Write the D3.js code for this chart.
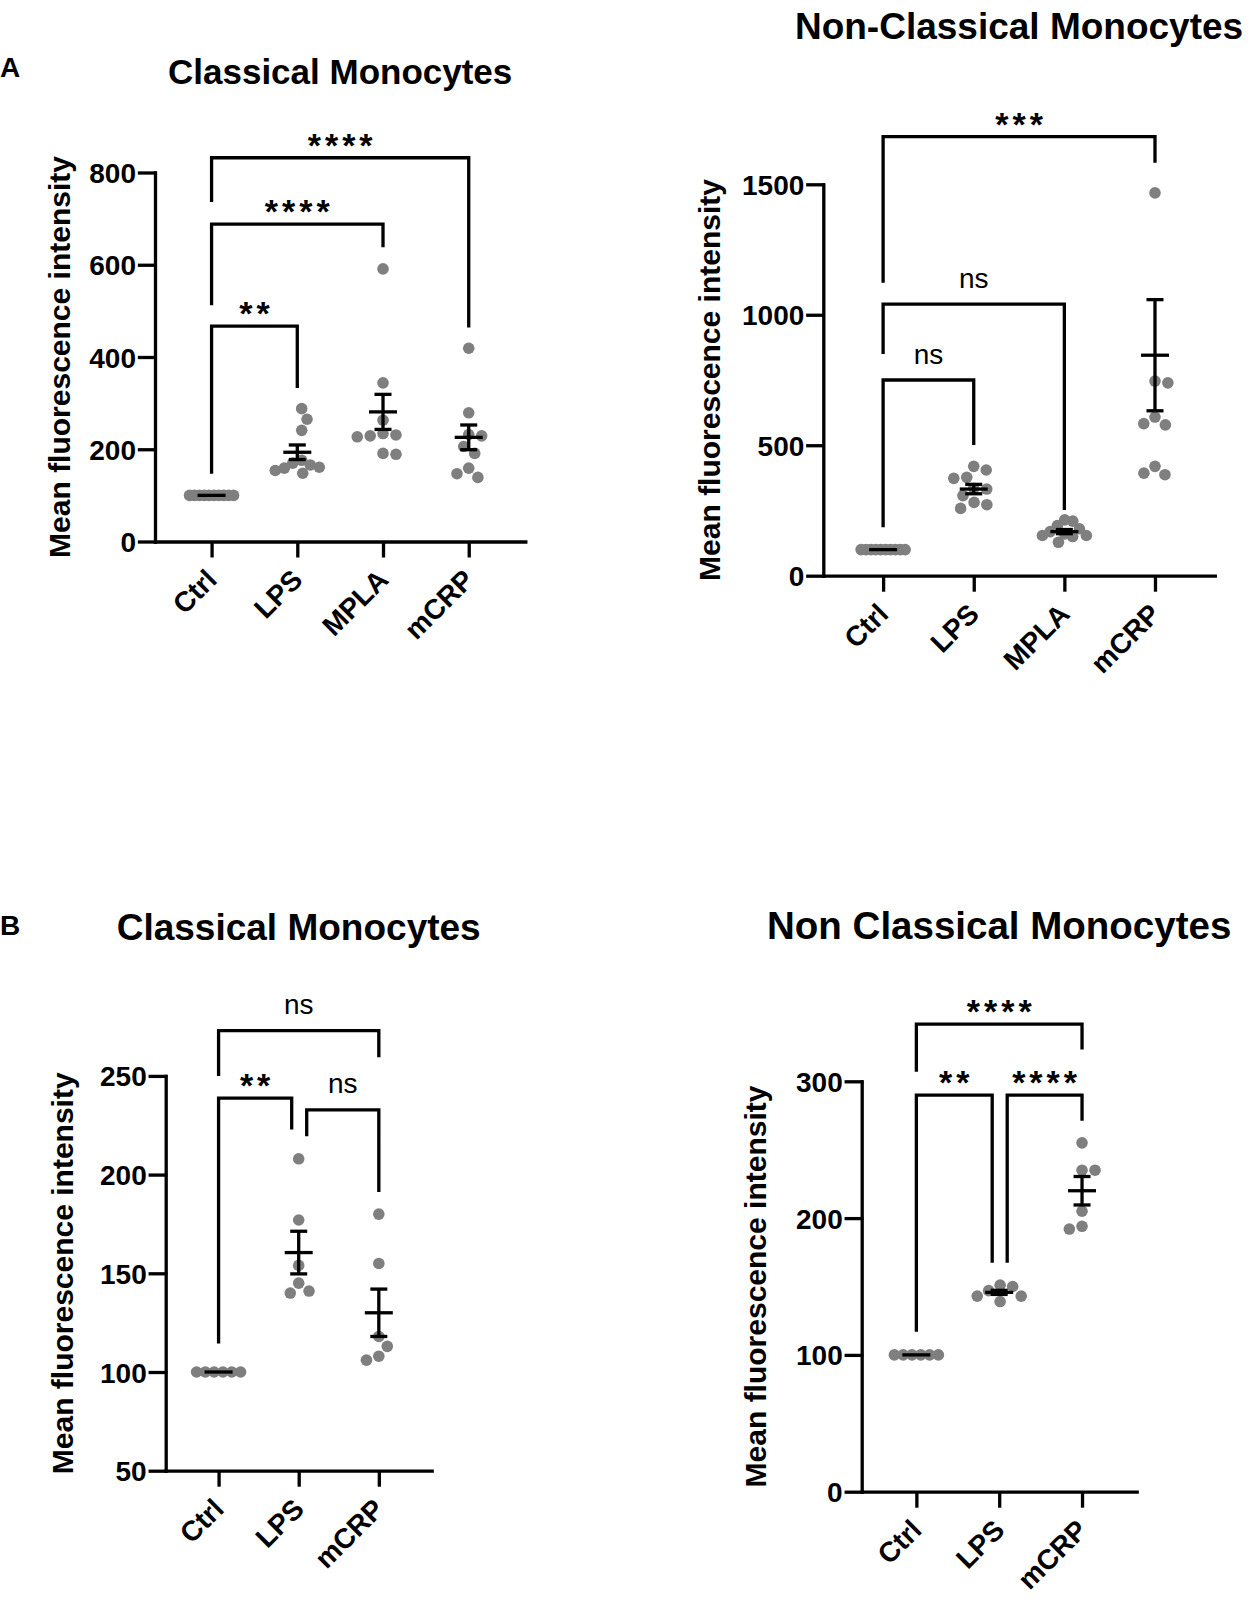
<!DOCTYPE html>
<html><head><meta charset="utf-8">
<script src="https://cdn.jsdelivr.net/npm/d3@7"></script>
<style>
body{margin:0;background:#fff}
svg{display:block}
text{font-family:"Liberation Sans",Arial,Helvetica,sans-serif}
</style>
</head><body>
<svg id="c" width="1252" height="1622"></svg>
<script>
// ---------------- DATA ----------------
const catsA = ["Ctrl", "LPS", "MPLA", "mCRP"];
const catsB = ["Ctrl", "LPS", "mCRP"];

// Panel A – Classical Monocytes
const a1Ticks = [0, 200, 400, 600, 800];
const a1Ctrl = [100, 100, 100, 100, 100, 100, 100, 100, 100, 100];
const a1LPS  = [288, 265, 241, 176, 170, 166, 161, 159, 154, 148];
const a1MPLA = [591, 344, 263, 234, 231, 229, 227, 191, 189];
const a1mCRP = [419, 279, 232, 229, 206, 191, 159, 147, 139];
const a1Mean = [100, 193.5, 281, 225.8];
const a1Sem  = [0, 15.8, 38, 26.8];
// [from, to, bar value, left leg end, right leg end, label]
const a1Brackets = [
  ["Ctrl", "LPS", 467, 147, 333, "**"],
  ["Ctrl", "MPLA", 688, 512, 638, "****"],
  ["Ctrl", "mCRP", 832, 736, 464, "****"]
];

// Panel A – Non-Classical Monocytes
const a2Ticks = [0, 500, 1000, 1500];
const a2Ctrl = [100, 100, 100, 100, 100, 100, 100, 100, 100, 100];
const a2LPS  = [419, 405, 377, 373, 335, 332, 307, 281, 272, 258];
const a2MPLA = [214, 209, 192, 180, 169, 160, 154, 154, 150, 128];
const a2mCRP = [1467, 746, 739, 608, 583, 578, 419, 393, 387];
const a2Mean = [100, 332, 169, 845];
const a2Sem  = [0, 18, 8, 213];
const a2Brackets = [
  ["Ctrl", "LPS", 750, 186, 501, "ns"],
  ["Ctrl", "MPLA", 1041, 850, 252, "ns"],
  ["Ctrl", "mCRP", 1683, 1123, 1583, "***"]
];

// Panel B – Classical Monocytes
const b1Ticks = [50, 100, 150, 200, 250];
const b1Ctrl = [100, 100, 100, 100, 100, 100];
const b1LPS  = [208, 177, 154, 145, 141, 140];
const b1mCRP = [180, 155, 118, 113, 108, 106];
const b1Mean = [100, 160.5, 130];
const b1Sem  = [0, 10.8, 12];
const b1Brackets = [
  ["Ctrl", "mCRP", 272.9, 250, 259.4, "ns"],
  ["Ctrl", "LPS", 238.7, 114.4, 222.8, "**"],
  ["LPS", "mCRP", 232.8, 219.4, 191.2, "ns"]
];

// Panel B – Non Classical Monocytes
const b2Ticks = [0, 100, 200, 300];
const b2Ctrl = [100, 100, 100, 100, 100, 100];
const b2LPS  = [151, 150, 147, 143, 143, 139];
const b2mCRP = [255, 235, 235, 205, 194, 192];
const b2Mean = [100, 145.7, 220];
const b2Sem  = [0, 1.5, 10.4];
const b2Brackets = [
  ["Ctrl", "mCRP", 341.8, 306.9, 323.3, "****"],
  ["Ctrl", "LPS", 289.9, 116.9, 167.3, "**"],
  ["LPS", "mCRP", 289.9, 167.3, 271.1, "****"]
];

// ---------------- LAYOUT ----------------
const panels = [
  {cats: catsA, groups: [a1Ctrl, a1LPS, a1MPLA, a1mCRP], means: a1Mean, sems: a1Sem,
   ticks: a1Ticks, brackets: a1Brackets, domain: [0, 800],
   axisX: 155, axisRight: 525.3, yBottom: 541.5, yTop: 172.5,
   title: "Classical Monocytes", titleSize: 35, titleY: 84, yTitleX: 70},
  {cats: catsA, groups: [a2Ctrl, a2LPS, a2MPLA, a2mCRP], means: a2Mean, sems: a2Sem,
   ticks: a2Ticks, brackets: a2Brackets, domain: [0, 1500],
   axisX: 823.3, axisRight: 1214.8, yBottom: 575.7, yTop: 184.3,
   title: "Non-Classical Monocytes", titleSize: 37, titleY: 39, yTitleX: 720},
  {cats: catsB, groups: [b1Ctrl, b1LPS, b1mCRP], means: b1Mean, sems: b1Sem,
   ticks: b1Ticks, brackets: b1Brackets, domain: [50, 250],
   axisX: 165.7, axisRight: 431.7, yBottom: 1470.7, yTop: 1075.9,
   title: "Classical Monocytes", titleSize: 37, titleY: 940, yTitleX: 73},
  {cats: catsB, groups: [b2Ctrl, b2LPS, b2mCRP], means: b2Mean, sems: b2Sem,
   ticks: b2Ticks, brackets: b2Brackets, domain: [0, 300],
   axisX: 861.7, axisRight: 1136.7, yBottom: 1491.7, yTop: 1081.3,
   title: "Non Classical Monocytes", titleSize: 38.5, titleY: 939, yTitleX: 766}
];

const svg = d3.select("#c");
const SW = 3.3, R = 5.8, DOT = "#7f7f7f";
const FONT = '"Liberation Sans", Arial, Helvetica, sans-serif';

svg.append("text").attr("x", 0).attr("y", 77).attr("font-size", 28).attr("font-weight", "bold").text("A");
svg.append("text").attr("x", 0).attr("y", 935).attr("font-size", 28).attr("font-weight", "bold").text("B");

function swarm(vals, y, D, maxHalf) {
  const order = vals.map((v, i) => i).sort((a, b) => vals[b] - vals[a]);
  const placed = [], off = new Array(vals.length);
  let bal = 0;
  for (const i of order) {
    const py = y(vals[i]);
    const ivs = [];
    for (const p of placed) {
      const dy = Math.abs(p.py - py);
      if (dy < D) { const h = Math.sqrt(D * D - dy * dy); ivs.push([p.ox - h, p.ox + h]); }
    }
    const cands = [0];
    ivs.forEach(iv => cands.push(iv[0], iv[1]));
    const ok = c => ivs.every(iv => c <= iv[0] + 1e-6 || c >= iv[1] - 1e-6);
    let best = null;
    cands.filter(ok).forEach(c => {
      if (best === null) { best = c; return; }
      const a = Math.abs(c), b = Math.abs(best);
      if (a < b - 1e-6) best = c;
      else if (Math.abs(a - b) < 1e-6 && ((bal > 0 && c < 0) || (bal <= 0 && c > 0))) best = c;
    });
    off[i] = best; bal += best;
    placed.push({py: py, ox: best});
  }
  const mn = d3.min(off), mx = d3.max(off);
  if (mx - mn > 2 * maxHalf) {
    const s = d3.scaleLinear().domain([mn, mx]).range([-maxHalf, maxHalf]);
    return off.map(s);
  }
  return off;
}

panels.forEach(p => {
  const g = svg.append("g");
  const x = d3.scalePoint().domain(p.cats).range([p.axisX, p.axisRight]).padding(0.66);
  const y = d3.scaleLinear().domain(p.domain).range([p.yBottom, p.yTop]);

  // title
  g.append("text").attr("x", (p.axisX + p.axisRight) / 2).attr("y", p.titleY)
    .attr("text-anchor", "middle").attr("font-size", p.titleSize).attr("font-weight", "bold")
    .text(p.title);

  // y axis title
  g.append("text")
    .attr("transform", `translate(${p.yTitleX},${(p.yBottom + p.yTop) / 2}) rotate(-90)`)
    .attr("text-anchor", "middle").attr("font-size", 30).attr("font-weight", "bold")
    .text("Mean fluorescence intensity");

  // y axis
  const ya = g.append("g").attr("transform", `translate(${p.axisX},0)`)
    .call(d3.axisLeft(y).tickValues(p.ticks).tickSize(15.5).tickSizeOuter(0).tickPadding(3.5).tickFormat(d3.format("d")));
  ya.attr("font-size", 28).attr("font-family", FONT).attr("font-weight", "bold");
  ya.selectAll("path,line").attr("stroke", "#000").attr("stroke-width", SW).attr("stroke-linecap", "square");
  ya.selectAll("text").attr("fill", "#000").attr("dy", "0.36em");

  // x axis
  const xa = g.append("g").attr("transform", `translate(0,${p.yBottom})`)
    .call(d3.axisBottom(x).tickSize(16).tickSizeOuter(0).tickFormat(""));
  xa.selectAll("path,line").attr("stroke", "#000").attr("stroke-width", SW);
  xa.select("path").attr("stroke-linecap", "square");
  g.selectAll(".xl").data(p.cats).enter().append("text")
    .attr("transform", d => `translate(${x(d) + 7},${p.yBottom + 40}) rotate(-45)`)
    .attr("text-anchor", "end").attr("font-size", 28).attr("font-weight", "bold")
    .text(d => d);

  // dots
  p.groups.forEach((vals, gi) => {
    const cx = x(p.cats[gi]);
    const offs = swarm(vals, y, 2 * R + 1.4, 22);
    g.selectAll(null).data(vals).enter().append("circle")
      .attr("cx", (d, i) => cx + offs[i]).attr("cy", d => y(d)).attr("r", R)
      .attr("fill", DOT);
  });

  // mean & SEM
  p.means.forEach((m, gi) => {
    const cx = x(p.cats[gi]);
    const s = p.sems[gi];
    const eg = g.append("g").attr("stroke", "#000").attr("stroke-width", SW);
    eg.append("line").attr("x1", cx - 14).attr("x2", cx + 14).attr("y1", y(m)).attr("y2", y(m));
    if (s > 0) {
      eg.append("line").attr("x1", cx).attr("x2", cx).attr("y1", y(m - s)).attr("y2", y(m + s));
      [m - s, m + s].forEach(v => eg.append("line").attr("x1", cx - 8.5).attr("x2", cx + 8.5).attr("y1", y(v)).attr("y2", y(v)));
    }
  });

  // significance brackets
  p.brackets.forEach(b => {
    const [ca, cb, bar, le, re, lab] = b;
    let xl = x(ca), xr = x(cb);
    // shift legs where one bracket ends and another starts on the same category
    if (p.brackets.some(o => o !== b && o[0] === cb)) xr -= 7;
    if (p.brackets.some(o => o !== b && o[1] === ca)) xl += 8;
    const yb = y(bar);
    g.append("path")
      .attr("d", `M${xl},${y(le)}V${yb}H${xr}V${y(re)}`)
      .attr("fill", "none").attr("stroke", "#000").attr("stroke-width", SW);
    const mid = (xl + xr) / 2;
    if (lab === "ns") {
      g.append("text").attr("x", mid).attr("y", yb - 16.5).attr("text-anchor", "middle")
        .attr("font-size", 28).text(lab);
    } else {
      g.append("text").attr("x", mid + 2).attr("y", yb - 1).attr("text-anchor", "middle")
        .attr("font-size", 34).attr("font-weight", "bold").attr("letter-spacing", 4).text(lab);
    }
  });
});
</script>
</body></html>
